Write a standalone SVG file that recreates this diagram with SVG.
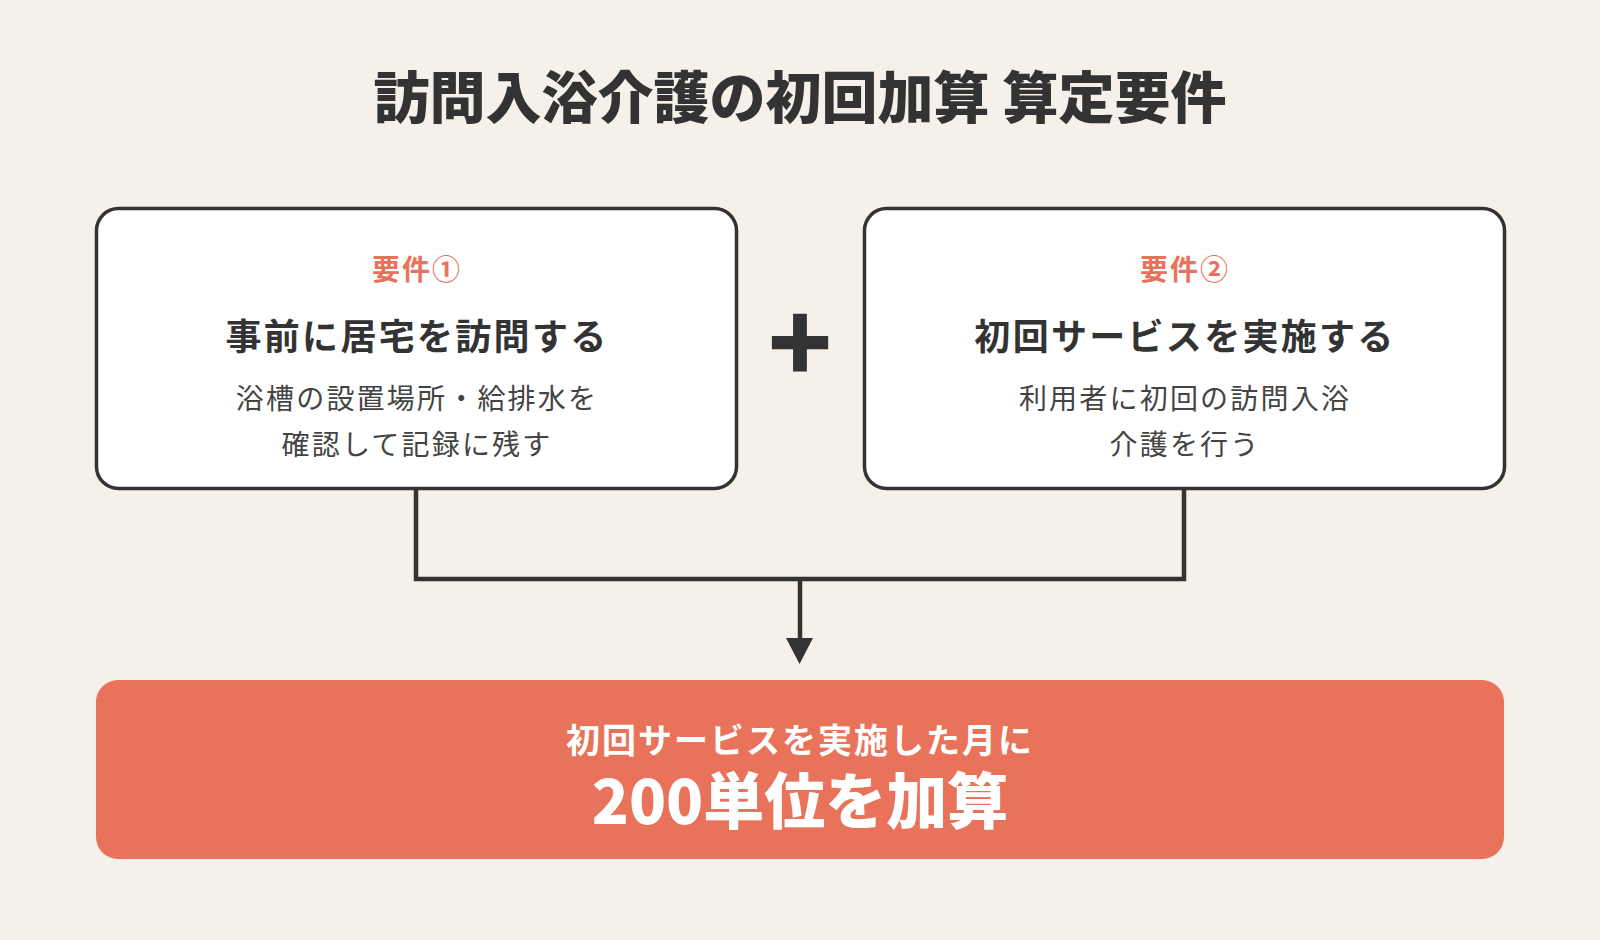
<svg xmlns="http://www.w3.org/2000/svg" width="1600" height="940" viewBox="0 0 1600 940">
<defs>
<style>
.jp{font-family:"Noto Sans CJK JP","Noto Sans CJK SC",sans-serif;}
.title{font-size:56px;font-weight:900;fill:#333333;}
.box{fill:#ffffff;stroke:#333333;stroke-width:3.5;}
.label{font-size:28px;font-weight:700;fill:#E8735A;letter-spacing:2px;}
.head{font-size:36px;font-weight:700;fill:#333333;letter-spacing:2.3px;}
.body{font-size:28px;font-weight:400;fill:#444444;letter-spacing:2.2px;}
.conn{fill:none;stroke:#333333;stroke-width:4.5;}
.res1{font-size:34px;font-weight:700;fill:#ffffff;letter-spacing:2px;}
.res2{font-size:61px;font-weight:900;fill:#ffffff;}
</style>
</defs>
<rect x="0" y="0" width="1600" height="940" fill="#F5F0EA"/>
<g id="title">
<text class="jp title" x="800" y="118" text-anchor="middle">訪問入浴介護の初回加算 算定要件</text>
</g>
<g id="connectors">
<path class="conn" d="M416,489 V579 H1184 V489"/>
<path class="conn" d="M800,579 V638"/>
<path d="M786,638 L813,638 L799.5,664 Z" fill="#333333"/>
</g>
<g id="req1">
<rect class="box" x="96.5" y="208.5" width="640" height="280" rx="22"/>
<text class="jp label" x="417" y="280" text-anchor="middle">要件①</text>
<text class="jp head" x="417" y="350" text-anchor="middle">事前に居宅を訪問する</text>
<text class="jp body" x="417" y="409" text-anchor="middle">浴槽の設置場所・給排水を</text>
<text class="jp body" x="417" y="455" text-anchor="middle">確認して記録に残す</text>
</g>
<g id="plus">
<text class="jp" x="800" y="383" text-anchor="middle" font-size="106" font-weight="900" fill="#333333">+</text>
</g>
<g id="req2">
<rect class="box" x="864.5" y="208.5" width="640" height="280" rx="22"/>
<text class="jp label" x="1185" y="280" text-anchor="middle">要件②</text>
<text class="jp head" x="1185" y="350" text-anchor="middle">初回サービスを実施する</text>
<text class="jp body" x="1185" y="409" text-anchor="middle">利用者に初回の訪問入浴</text>
<text class="jp body" x="1185" y="455" text-anchor="middle">介護を行う</text>
</g>
<g id="result">
<rect x="96" y="680" width="1408" height="179" rx="22" fill="#E8735A"/>
<text class="jp res1" x="800" y="753" text-anchor="middle">初回サービスを実施した月に</text>
<text class="jp res2" x="800" y="824" text-anchor="middle">200単位を加算</text>
</g>
</svg>
